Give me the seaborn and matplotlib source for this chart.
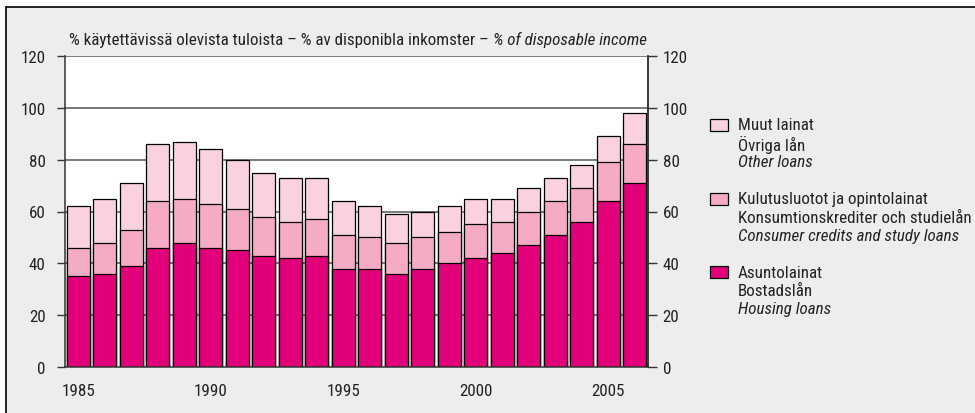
import matplotlib
matplotlib.use("Agg")
import matplotlib.pyplot as plt
import seaborn as sns
import numpy as np
import pandas as pd
from matplotlib.patches import Rectangle
from matplotlib.lines import Line2D

years = list(range(1985, 2007))
housing = [35, 36, 39, 46, 48, 46, 45, 43, 42, 43, 38, 38, 36, 38, 40, 42, 44, 47, 51, 56, 64, 71]
consumer = [11, 12, 14, 18, 17, 17, 16, 15, 14, 14, 13, 12, 12, 12, 12, 13, 12, 13, 13, 13, 15, 15]
other = [16, 17, 18, 22, 22, 21, 19, 17, 17, 16, 13, 12, 11, 10, 10, 10, 9, 9, 9, 9, 10, 12]

series_labels = [
    ("Muut lainat", "Övriga lån", "Other loans"),
    ("Kulutusluotot ja opintolainat", "Konsumtionskrediter och studielån", "Consumer credits and study loans"),
    ("Asuntolainat", "Bostadslån", "Housing loans"),
]
title_plain = "% käytettävissä olevista tuloista – % av disponibla inkomster – "
title_italic = "% of disposable income"
yticks = [0, 20, 40, 60, 80, 100, 120]
xtick_years = [1985, 1990, 1995, 2000, 2005]

c_housing = "#E2007A"
c_consumer = "#F5ABC6"
c_other = "#F9D1DF"
bg = "#EDEDED"
txt = "#222222"

sns.set_style("white")
FONT = ["Roboto Condensed", "Liberation Sans Narrow", "Liberation Sans", "DejaVu Sans"]
plt.rcParams["font.family"] = FONT

W, H = 975, 414

# measure title width to pick a font size that matches the reference layout
tmp = plt.figure(figsize=(9.75, 4.14), dpi=100)
a = tmp.text(0, 0.5, title_plain, fontsize=12)
b = tmp.text(0, 0.3, title_italic, fontsize=12, style="italic")
tmp.canvas.draw()
r = tmp.canvas.get_renderer()
wtot = a.get_window_extent(renderer=r).width + b.get_window_extent(renderer=r).width
plt.close(tmp)
FS = min(12.5, 12 * 576 / wtot)
plt.rcParams["font.size"] = FS

df = pd.DataFrame({
    "year": [str(y) for y in years],
    "housing": housing,
    "consumer": consumer,
    "other": other,
})
df["lvl2"] = df["housing"] + df["consumer"]
df["lvl3"] = df["lvl2"] + df["other"]

fig = plt.figure(figsize=(9.75, 4.14), dpi=100)
fig.patch.set_facecolor("white")
fig.add_artist(Rectangle((6 / W, 0), 1 - 6 / W, 1 - 8 / H, transform=fig.transFigure,
                         facecolor=bg, edgecolor="none", zorder=-10))
fig.add_artist(Line2D([6 / W, 6 / W], [0, 1 - 8 / H], transform=fig.transFigure, color="black", lw=1.2))
fig.add_artist(Line2D([6 / W, 1], [1 - 8 / H, 1 - 8 / H], transform=fig.transFigure, color="black", lw=1.2))

ax = fig.add_axes([65 / W, 1 - 368 / H, (648 - 65) / W, (368 - 57) / H])
ax.set_facecolor("white")

order = df["year"].tolist()
for col, colr in [("lvl3", c_other), ("lvl2", c_consumer), ("housing", c_housing)]:
    sns.barplot(data=df, x="year", y=col, order=order, color=colr, saturation=1,
                width=0.85, edgecolor="black", linewidth=0.9, ax=ax, zorder=3, errorbar=None)

ax.set_xlim(-0.5, len(years) - 0.5)
ax.set_ylim(0, 120)
ax.set_yticks(yticks)
ax.set_yticklabels([str(t) for t in yticks])
ax.set_xticks([years.index(y) for y in xtick_years])
ax.set_xticklabels([str(y) for y in xtick_years])
ax.set_xlabel("")
ax.set_ylabel("")
for y in yticks[1:]:
    ax.axhline(y, color="#555555", lw=1.1, zorder=1)
ax.spines["top"].set_visible(False)
for s in ["left", "right", "bottom"]:
    ax.spines[s].set_color("#333333")
    ax.spines[s].set_linewidth(1.1)
ax.spines["bottom"].set_zorder(5)
ax.tick_params(axis="y", direction="out", length=6, width=1, color="#333333", pad=8,
               labelsize=FS, labelcolor=txt)
ax.tick_params(axis="x", direction="out", length=6.5, width=1, color="#333333", pad=5,
               labelsize=FS, labelcolor=txt)

ax2 = ax.twinx()
ax2.set_ylim(0, 120)
ax2.set_yticks(yticks)
ax2.set_yticklabels([str(t) for t in yticks])
ax2.tick_params(axis="y", direction="out", length=6.5, width=1, color="#333333", pad=4,
                labelsize=FS, labelcolor=txt)
for s in ["top", "left", "bottom"]:
    ax2.spines[s].set_visible(False)
ax2.spines["right"].set_color("#333333")
ax2.spines["right"].set_linewidth(1.1)

# title with italic tail
t1 = fig.text(69 / W, 1 - 40 / H, title_plain, ha="left", va="center", fontsize=FS, color=txt)
fig.canvas.draw()
bb = t1.get_window_extent(renderer=fig.canvas.get_renderer())
fig.text(bb.x1 / W, 1 - 40 / H, title_italic, ha="left", va="center", fontsize=FS,
         style="italic", color=txt)

# legend
colors = [c_other, c_consumer, c_housing]
first_line_y = [126, 200, 273]
for (l1, l2, l3), colr, y0 in zip(series_labels, colors, first_line_y):
    fig.add_artist(Rectangle((710 / W, 1 - (y0 + 6) / H), 18 / W, 12 / H, transform=fig.transFigure,
                             facecolor=colr, edgecolor="black", lw=0.9))
    fig.text(738 / W, 1 - y0 / H, l1, ha="left", va="center", fontsize=FS, color=txt)
    fig.text(738 / W, 1 - (y0 + 18.5) / H, l2, ha="left", va="center", fontsize=FS, color=txt)
    fig.text(738 / W, 1 - (y0 + 37) / H, l3, ha="left", va="center", fontsize=FS,
             style="italic", color=txt)

fig.savefig("out.png", dpi=100, facecolor=fig.get_facecolor())
